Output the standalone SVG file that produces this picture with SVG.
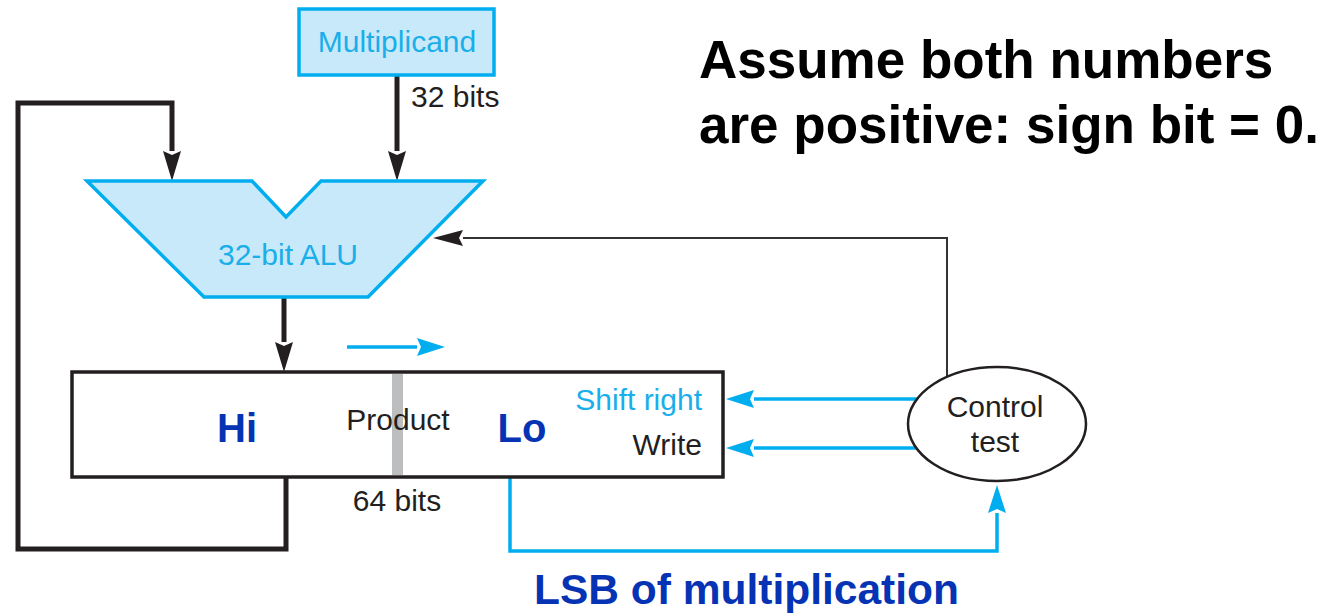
<svg xmlns="http://www.w3.org/2000/svg" width="1325" height="615" viewBox="0 0 1325 615">
  <defs>
    <style>
      .lbl { font-family: "Liberation Sans", Arial, sans-serif; font-size: 30px; fill: #231f20; }
      .cyan-t { fill: #1aaeea; }
      .big { font-family: "Liberation Sans", Arial, sans-serif; font-weight: bold; }
      .hdr { font-size: 53px; fill: #000000; }
      .hilo { font-size: 40px; fill: #0633b4; }
      .note { font-size: 42.5px; fill: #0633b4; }
      .wire-k { fill: none; stroke: #231f20; stroke-width: 5; stroke-linejoin: miter; }
      .wire-c { fill: none; stroke: #00aeef; stroke-width: 3.5; }
      .wire-t { fill: none; stroke: #333333; stroke-width: 2; }
      .unit { fill: #c8e9f9; stroke: #00aeef; stroke-width: 3.5; }
    </style>
    <marker id="headK" viewBox="0 0 30 18" refX="0" refY="9" markerWidth="30" markerHeight="18" markerUnits="userSpaceOnUse" orient="auto">
      <path d="M0,0 L30,9 L0,18 L4,9 Z" fill="#231f20"/>
    </marker>
    <marker id="headC" viewBox="0 0 28 18" refX="0" refY="9" markerWidth="28" markerHeight="18" markerUnits="userSpaceOnUse" orient="auto">
      <path d="M0,0 L28,9 L0,18 L4,9 Z" fill="#00aeef"/>
    </marker>
    <marker id="headT" viewBox="0 0 30 16" refX="0" refY="8" markerWidth="30" markerHeight="16" markerUnits="userSpaceOnUse" orient="auto">
      <path d="M0,0 L30,8 L0,16 L4,8 Z" fill="#231f20"/>
    </marker>
  </defs>

  <rect width="1325" height="615" fill="#ffffff"/>

  <!-- connectors -->
  <g id="connectors">
    <!-- Multiplicand to ALU, 32 bits -->
    <path class="wire-k" d="M397,75 V151" marker-end="url(#headK)"/>
    <!-- Hi half fed back to the ALU -->
    <path class="wire-k" d="M286,477 V549 H18 V103 H172 V151" marker-end="url(#headK)"/>
    <!-- ALU result into Product -->
    <path class="wire-k" d="M284,298 V342" marker-end="url(#headK)"/>
    <!-- shift direction -->
    <path class="wire-c" d="M347,347 H417" marker-end="url(#headC)"/>
    <!-- control signals -->
    <path class="wire-c" d="M917,399 H754" marker-end="url(#headC)"/>
    <path class="wire-c" d="M916,448 H754" marker-end="url(#headC)"/>
    <!-- LSB to control test -->
    <path class="wire-c" d="M510,477 V551 H997 V513" marker-end="url(#headC)"/>
    <!-- control to ALU -->
    <path class="wire-t" d="M947,378 V238 H463" marker-end="url(#headT)"/>
  </g>

  <g id="multiplicand">
    <rect class="unit" x="299" y="9" width="195" height="66"/>
    <text class="lbl cyan-t" x="397" y="52" text-anchor="middle">Multiplicand</text>
  </g>
  <text class="lbl" x="411" y="107">32 bits</text>

  <g id="alu">
    <polygon class="unit" points="87,181 252,181 286,217 321,181 483,181 368,297 204,297"/>
    <text class="lbl cyan-t" x="288" y="265" text-anchor="middle">32-bit ALU</text>
  </g>

  <g id="product">
    <rect x="72" y="372" width="651" height="105" fill="#ffffff" stroke="#231f20" stroke-width="3.5"/>
    <rect x="392" y="374" width="11" height="101" fill="#bcbec0"/>
    <text class="big hilo" x="237" y="442" text-anchor="middle">Hi</text>
    <text class="lbl" x="398" y="430" text-anchor="middle">Product</text>
    <text class="big hilo" x="522" y="442" text-anchor="middle">Lo</text>
    <text class="lbl cyan-t" x="702" y="410" text-anchor="end">Shift right</text>
    <text class="lbl" x="702" y="455" text-anchor="end">Write</text>
  </g>
  <text class="lbl" x="397" y="511" text-anchor="middle">64 bits</text>

  <g id="control">
    <ellipse cx="997" cy="424" rx="89" ry="57" fill="#ffffff" stroke="#231f20" stroke-width="2.5"/>
    <text class="lbl" x="995" y="417" text-anchor="middle">Control</text>
    <text class="lbl" x="995" y="452" text-anchor="middle">test</text>
  </g>

  <text class="big hdr" x="699" y="78">Assume both numbers</text>
  <text class="big hdr" x="699" y="143">are positive: sign bit = 0.</text>
  <text class="big note" x="534" y="604">LSB of multiplication</text>
</svg>
